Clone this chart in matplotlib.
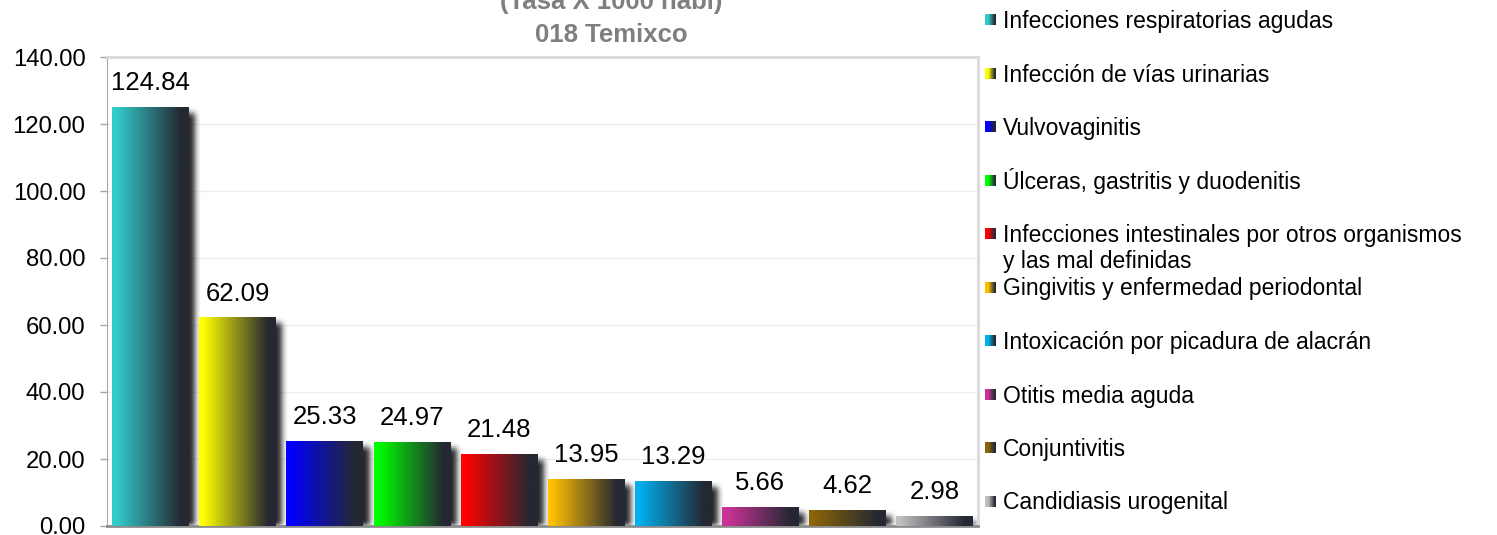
import numpy as np
import matplotlib
matplotlib.use('Agg')
import matplotlib.pyplot as plt
from matplotlib.colors import to_rgb

plt.rcParams['font.family'] = ['Liberation Sans', 'DejaVu Sans']

causes = [
    'Infecciones respiratorias agudas',
    'Infección de vías urinarias',
    'Vulvovaginitis',
    'Úlceras, gastritis y duodenitis',
    'Infecciones intestinales por otros organismos\ny las mal definidas',
    'Gingivitis y enfermedad periodontal',
    'Intoxicación por picadura de alacrán',
    'Otitis media aguda',
    'Conjuntivitis',
    'Candidiasis urogenital',
]
rates = [124.84, 62.09, 25.33, 24.97, 21.48, 13.95, 13.29, 5.66, 4.62, 2.98]
colors = ['#33CCCC', '#FFFF00', '#0000FF', '#00FF00', '#FF0000',
          '#FFC000', '#00B0F0', '#CC3399', '#8B6508', '#C0C0C0']
yticks = [0, 20, 40, 60, 80, 100, 120, 140]
title_lines = ['(Tasa X 1000 habi)', '018 Temixco']

DARK = np.array([36, 40, 50]) / 255.0
W_PX, H_PX = 1497, 535


def gradient(color, start=0.05, span=0.85, n=200):
    t = np.linspace(0, 1, n)
    t = np.clip((t - start) / span, 0, 1)
    c = np.array(to_rgb(color))
    rgb = c[None, :] * (1 - t[:, None]) + DARK[None, :] * t[:, None]
    return rgb[None, :, :]


def box_blur(a, r, axis):
    k = np.ones(2 * r + 1) / (2 * r + 1)
    return np.apply_along_axis(lambda m: np.convolve(m, k, mode='same'), axis, a)


fig = plt.figure(figsize=(W_PX / 100, H_PX / 100), dpi=100)
ax = fig.add_axes([107 / W_PX, 1 - 526 / H_PX, (978 - 107) / W_PX, (526 - 57) / H_PX])

x = np.arange(len(rates))
bars = ax.bar(x, rates, width=0.88, color='none', zorder=3)
ax.set_xlim(-0.5, len(rates) - 0.5)
ax.set_ylim(0, 140)

# gradient fill for every bar
for b, col in zip(bars, colors):
    x0, w, h = b.get_x(), b.get_width(), b.get_height()
    ax.imshow(gradient(col), extent=[x0, x0 + w, 0, h], aspect='auto',
              interpolation='bilinear', zorder=3)
ax.set_xlim(-0.5, len(rates) - 0.5)
ax.set_ylim(0, 140)
ax.set_aspect('auto')

# soft drop shadow under bars
bb = ax.get_window_extent()
aw, ah = int(round(bb.width)), int(round(bb.height))
mask = np.zeros((ah, aw))
for b in bars:
    e = b.get_window_extent()
    c0 = int(e.x0 - bb.x0) + 6
    c1 = int(e.x1 - bb.x0) + 7
    r1 = int(e.y1 - bb.y0) - 5
    mask[0:max(r1, 0), max(c0, 0):min(c1, aw)] = 1
for _ in range(2):
    mask = box_blur(mask, 3, 1)
    mask = box_blur(mask, 3, 0)
shadow = np.zeros((ah, aw, 4))
shadow[..., 3] = np.clip(mask, 0, 1) * 0.85
ax.imshow(shadow, extent=[0, 1, 0, 1], transform=ax.transAxes, origin='lower',
          aspect='auto', zorder=2)
ax.set_xlim(-0.5, len(rates) - 0.5)
ax.set_ylim(0, 140)
ax.set_aspect('auto')

for b, v in zip(bars, rates):
    ax.annotate(f'{v:.2f}', xy=(b.get_x() + b.get_width() / 2, v),
                xytext=(0, 12.5), textcoords='offset points',
                ha='center', va='baseline', fontsize=18.5, color='black', zorder=5)

ax.set_yticks(yticks)
ax.set_yticklabels([f'{t:.2f}' for t in yticks], fontsize=17.2)
ax.set_xticks([])
ax.tick_params(axis='y', length=5, width=1, color='#a6a6a6', pad=10.5)
ax.yaxis.grid(True, color='#efefef', lw=1)
ax.set_axisbelow(True)
ax.spines['left'].set_color('#a6a6a6')
ax.spines['bottom'].set_color('#8c8c8c')
ax.spines['bottom'].set_linewidth(2)
for s in ('top', 'right'):
    ax.spines[s].set_color('#d9d9d9')
    ax.spines[s].set_linewidth(2)

# overlay in pixel coords for title and legend
ov = fig.add_axes([0, 0, 1, 1], zorder=10)
ov.set_xlim(0, W_PX)
ov.set_ylim(H_PX, 0)
ov.axis('off')

title_font = ['Liberation Sans Narrow', 'Liberation Sans']
ov.text(611, 8.5, title_lines[0], ha='center', va='baseline', fontsize=18.5,
        fontweight='bold', color='#7f7f7f', family=title_font)
ov.text(611, 41.5, title_lines[1], ha='center', va='baseline', fontsize=18.5,
        fontweight='bold', color='#7f7f7f', family=title_font)

for i, (name, col) in enumerate(zip(causes, colors)):
    yc = 20 + i * 53.5
    ov.imshow(gradient(col, start=0.3, span=0.6), extent=[985, 996, yc + 5.5, yc - 5.5],
              aspect='auto', interpolation='bilinear')
    for j, line in enumerate(name.split('\n')):
        ov.text(1003, yc + 8 + j * 26, line, ha='left', va='baseline',
                fontsize=16.5, color='black')
ov.set_xlim(0, W_PX)
ov.set_ylim(H_PX, 0)

fig.savefig('out.png', dpi=100)
